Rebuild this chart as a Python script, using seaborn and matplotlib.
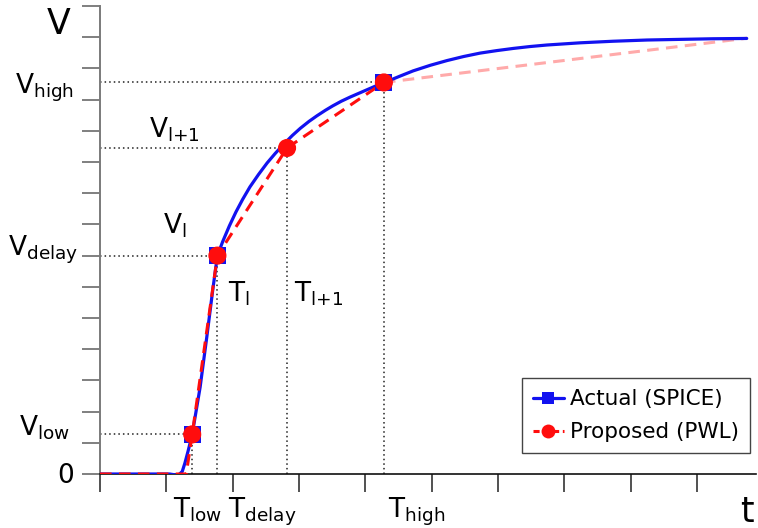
import matplotlib
matplotlib.use("Agg")
import matplotlib.pyplot as plt
import seaborn as sns
import pandas as pd
import numpy as np
from matplotlib.lines import Line2D

# ---------------- data ----------------
actual_t = [0.0, 1.05, 1.14, 1.19, 1.24, 1.28, 1.33, 1.39, 1.51, 1.61, 1.70, 1.77,
            1.85, 1.95, 2.05, 2.15, 2.26, 2.39, 2.52, 2.64, 2.76, 2.90, 3.02, 3.15,
            3.27, 3.40, 3.51, 3.64, 3.77, 3.90, 4.03, 4.15, 4.28, 4.52, 4.72, 4.98,
            5.23, 5.48, 5.73, 5.98, 6.23, 6.48, 6.74, 7.24, 7.73, 8.25, 8.74, 9.24, 9.75]
actual_v = [0.0, 0.0, -0.03, -0.02, 0.08, 0.35, 0.75, 1.27, 2.79, 4.39, 5.90, 7.0,
            7.45, 7.95, 8.40, 8.80, 9.20, 9.60, 9.97, 10.27, 10.55, 10.85, 11.08, 11.30,
            11.48, 11.66, 11.80, 11.95, 12.08, 12.20, 12.32, 12.43, 12.54, 12.75, 12.92, 13.10,
            13.25, 13.38, 13.49, 13.57, 13.64, 13.70, 13.75, 13.82, 13.87, 13.91, 13.93, 13.95, 13.96]

pwl_t = [0.0, 1.30, 1.39, 1.77, 2.82, 4.28]
pwl_v = [0.0, 0.0, 1.27, 7.0, 10.45, 12.55]
tail_t = [4.28, 9.76]
tail_v = [12.55, 13.97]

spice_mark_t = [1.39, 1.77, 4.28]
spice_mark_v = [1.27, 7.0, 12.55]
pwl_mark_t = [1.39, 1.77, 2.82, 4.28]
pwl_mark_v = [1.27, 7.0, 10.45, 12.55]

guide_t = [1.39, 1.77, 2.82, 4.28]
guide_v = [1.27, 7.0, 10.45, 12.55]

legend_labels = ["Actual (SPICE)", "Proposed (PWL)"]

# ---------------- style ----------------
sns.set_style("ticks")
plt.rcParams["font.family"] = ["DejaVu Sans"]
plt.rcParams["mathtext.default"] = "regular"

W, H = 758, 528
fig = plt.figure(figsize=(W / 100, H / 100), dpi=100)
ax = fig.add_axes([100 / W, 54 / H, 656 / W, 468 / H])

BLUE = "#1212f0"
RED = "#ff0d0d"
LRED = "#ffaaaa"

# guide lines (dotted)
for t, v in zip(guide_t, guide_v):
    ax.plot([0, t], [v, v], color="#222222", lw=1.1, ls=(0, (1, 2)), zorder=1)
    ax.plot([t, t], [0, v], color="#222222", lw=1.1, ls=(0, (1, 2)), zorder=1)

df_a = pd.DataFrame({"t": actual_t, "v": actual_v})
sns.lineplot(data=df_a, x="t", y="v", ax=ax, color=BLUE, lw=2.3, zorder=3,
             estimator=None, sort=False)

df_p = pd.DataFrame({"t": pwl_t, "v": pwl_v})
sns.lineplot(data=df_p, x="t", y="v", ax=ax, color=RED, lw=2.2, zorder=4,
             estimator=None, sort=False, linestyle=(0, (3.8, 2.4)))
df_tail = pd.DataFrame({"t": tail_t, "v": tail_v})
sns.lineplot(data=df_tail, x="t", y="v", ax=ax, color=LRED, lw=2.2, zorder=2,
             estimator=None, sort=False, linestyle=(0, (3.8, 2.4)))

sns.scatterplot(x=spice_mark_t, y=spice_mark_v, ax=ax, marker="s", s=150,
                color=BLUE, edgecolor="none", zorder=5)
sns.scatterplot(x=pwl_mark_t, y=pwl_mark_v, ax=ax, marker="o", s=170,
                color=RED, edgecolor="none", zorder=6)

ax.set_xlim(0, 9.89)
ax.set_ylim(0, 15)
ax.set_xticks(np.arange(0, 10))
ax.set_yticks(np.arange(0, 16))
ax.set_xticklabels([])
ax.set_yticklabels([])
ax.set_xlabel("")
ax.set_ylabel("")
ax.tick_params(axis="y", direction="out", length=13, width=1.2, color="#6a6a6a")
ax.tick_params(axis="x", direction="out", length=13, width=1.2, color="#333333")
for s in ["top", "right"]:
    ax.spines[s].set_visible(False)
ax.spines["left"].set_color("#7a7a7a")
ax.spines["left"].set_linewidth(1.4)
ax.spines["bottom"].set_color("#111111")
ax.spines["bottom"].set_linewidth(1.2)

handles = [
    Line2D([], [], color=BLUE, lw=2.3, marker="s", markersize=9, markeredgewidth=0),
    Line2D([], [], color=RED, lw=2.2, ls=(0, (2, 1.2)), marker="o", markersize=10,
           markeredgewidth=0),
]
leg = ax.legend(handles, legend_labels, loc="lower right", bbox_to_anchor=(0.991, 0.045),
                borderaxespad=0, fontsize=15.5, frameon=True, fancybox=False,
                framealpha=1, edgecolor="#444444", handlelength=1.45,
                handletextpad=0.3, borderpad=0.5, labelspacing=0.6)
leg.get_frame().set_linewidth(1.0)
for txt in leg.get_texts():
    txt.set_color("black")


def ptext(x, y, s, size=19, ha="left", va="baseline"):
    fig.text(x / W, 1 - y / H, s, ha=ha, va=va, fontsize=size, color="black")


ptext(47, 34, "V", size=25)
ptext(754, 522, "t", size=25, ha="right")
ptext(74, 483, "0", size=19, ha="right")
ptext(70, 435, r"$V_{low}$", ha="right")
ptext(78, 255, r"$V_{delay}$", ha="right")
ptext(74, 94, r"$V_{high}$", ha="right")
ptext(149, 137, r"$V_{l{+}1}$")
ptext(163, 234, r"$V_{l}$")
ptext(228, 301, r"$T_{l}$")
ptext(294, 301, r"$T_{l{+}1}$")
ptext(173, 518, r"$T_{low}$")
ptext(228, 518, r"$T_{delay}$")
ptext(388, 518, r"$T_{high}$")

fig.savefig("out.png", dpi=100)
